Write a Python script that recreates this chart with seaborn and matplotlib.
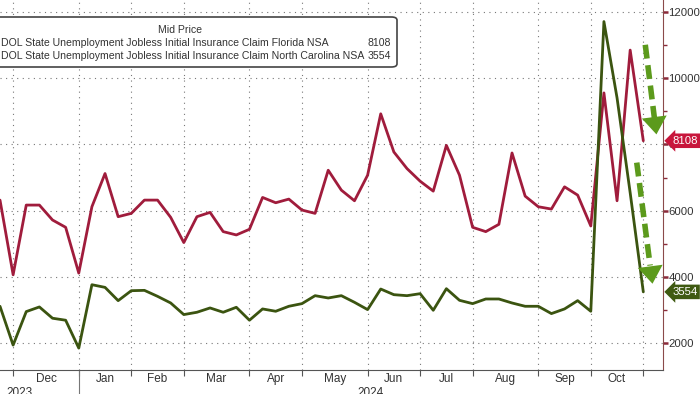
import pandas as pd
import matplotlib.pyplot as plt
import numpy as np
import seaborn as sns
from matplotlib.patches import FancyBboxPatch
import matplotlib.transforms as mtransforms

# Недельные значения (индекс недели)
florida = [6320, 4070, 6170, 6170, 5720, 5500, 4120, 6120, 7120, 5820,
           5920, 6320, 6320, 5800, 5040, 5820, 5950, 5370, 5270, 5440,
           6400, 6240, 6350, 6020, 5920, 7220, 6620, 6300, 7070, 8920,
           7770, 7270, 6890, 6590, 7970, 7070, 5500, 5370, 5590, 7740,
           6440, 6120, 6050, 6720, 6470, 5540, 9550, 6300, 10840, 8108]
n_carolina = [3120, 1950, 2960, 3100, 2760, 2700, 1860, 3770, 3690, 3290,
              3590, 3600, 3420, 3220, 2870, 2940, 3070, 2940, 3090, 2700,
              3040, 2970, 3120, 3200, 3440, 3370, 3440, 3240, 3020, 3640,
              3470, 3440, 3500, 3000, 3650, 3300, 3200, 3340, 3340, 3220,
              3120, 3120, 2900, 3040, 3290, 2970, 11700, 9400, 6540, 3554]
week = list(range(-1, len(florida) - 1))

# Начало каждого месяца (индекс недели) и подписи
month_starts = [0, 5, 9, 13, 18, 22, 27, 31, 35, 40, 44, 48]
month_names = ['Dec', 'Jan', 'Feb', 'Mar', 'Apr', 'May', 'Jun', 'Jul', 'Aug', 'Sep', 'Oct']
year_labels = ['2023', '2024']
year_pos = [0.45, 27.2]

# Стрелки-аннотации (начало -> конец)
arrow1 = [(48.15, 11000), (49.0, 8300)]
arrow2 = [(47.5, 7450), (48.7, 3800)]

red = '#a01c3c'
green = '#3b5410'
arrow_green = '#5c9a1c'
txt = '#333333'

df = pd.DataFrame({'week': week, 'Florida': florida, 'North Carolina': n_carolina})

sns.set_style('white')
plt.rcParams['font.family'] = ['Liberation Sans', 'DejaVu Sans']

fig = plt.figure(figsize=(7, 3.94), dpi=100)
ax = fig.add_axes([0, 24 / 394, 663 / 700, 370 / 394])

sns.lineplot(data=df, x='week', y='Florida', color=red, lw=2, ax=ax)
sns.lineplot(data=df, x='week', y='North Carolina', color=green, lw=2, ax=ax)

ax.set_xlim(-1, 49.5)
ax.set_ylim(1200, 12350)
ax.set_xlabel('')
ax.set_ylabel('')

# Ось Y справа
ax.yaxis.tick_right()
ax.set_yticks(range(2000, 12001, 2000))
ax.set_yticks(range(3000, 12001, 2000), minor=True)
ax.set_yticklabels([str(v) for v in range(2000, 12001, 2000)], fontsize=8.2, color=txt)
ax.tick_params(axis='y', which='major', length=3.5, width=1.8, color='#8b2a3a', pad=0.5, right=True)
ax.tick_params(axis='y', which='minor', length=3, width=1, color='#8b2a3a', right=True)

# Ось X: отметки на начало месяца, подписи по центру
ax.set_xticks(month_starts)
ax.set_xticklabels([])
centers = [(month_starts[i] + month_starts[i + 1]) / 2 for i in range(len(month_names))]
ax.set_xticks(centers, minor=True)
ax.set_xticklabels(month_names, minor=True, fontsize=8.5, color=txt)
ax.tick_params(axis='x', which='major', length=4, color='#555555', bottom=True)
ax.tick_params(axis='x', which='minor', length=0, pad=2)

ax.grid(True, which='major', axis='both', linestyle=(0, (1, 4)), color='#777777', lw=0.8)
for s in ['left', 'top']:
    ax.spines[s].set_visible(False)
ax.spines['right'].set_color('#8b4a4a')
ax.spines['bottom'].set_color('#555555')

# Годы под осью (обрезаны нижним краем, как в оригинале)
trans = mtransforms.blended_transform_factory(ax.transData, fig.transFigure)
for lab, pos in zip(year_labels, year_pos):
    fig.text(pos, 1 - 386.5 / 394, lab, transform=trans, ha='center', va='top', fontsize=8.5, color=txt)
ax.plot([month_starts[1], month_starts[1]], [0, -0.07],
        transform=mtransforms.blended_transform_factory(ax.transData, ax.transAxes),
        color='#777777', lw=0.8, clip_on=False)

# Зелёные пунктирные стрелки
for (x0, y0), (x1, y1) in [arrow1, arrow2]:
    xs = x0 + (x1 - x0) * 0.85
    ys = y0 + (y1 - y0) * 0.85
    ax.plot([x0, xs], [y0, ys], color=arrow_green, lw=4, dashes=(2.5, 1.2), solid_capstyle='butt', clip_on=False)
    ax.annotate('', xy=(x1, y1), xytext=(xs, ys),
                arrowprops=dict(arrowstyle='-|>,head_length=0.7,head_width=0.5', color=arrow_green, lw=0,
                                mutation_scale=18, shrinkA=0, shrinkB=0), annotation_clip=False)

# Ярлыки последних значений
tag = mtransforms.blended_transform_factory(ax.transAxes, ax.transData)
ax.text(1.014, florida[-1], str(florida[-1]), transform=tag, va='center', ha='left', color='white', fontsize=8.2,
        bbox=dict(boxstyle='larrow,pad=0.2', fc='#c8163c', ec='none'), clip_on=False)
ax.text(1.014, n_carolina[-1], str(n_carolina[-1]), transform=tag, va='center', ha='left', color='white', fontsize=8.2,
        bbox=dict(boxstyle='larrow,pad=0.2', fc='#3f5a12', ec='none'), clip_on=False)

# Легенда в рамке
fs = 7.6
box = FancyBboxPatch((-20 / 700, 1 - 67 / 394), 417 / 700, 50 / 394, boxstyle='round,pad=0,rounding_size=0.008',
                     transform=fig.transFigure, fc='white', ec='#444444', lw=1.2, zorder=5)
fig.patches.append(box)
fig.text(180 / 700, 1 - 30 / 394, 'Mid Price', ha='center', va='center', fontsize=fs, color=txt, zorder=6)
fig.text(1 / 700, 1 - 43 / 394, 'DOL State Unemployment Jobless Initial Insurance Claim Florida NSA',
         ha='left', va='center', fontsize=fs, color=txt, zorder=6)
fig.text(1 / 700, 1 - 56 / 394, 'DOL State Unemployment Jobless Initial Insurance Claim North Carolina NSA',
         ha='left', va='center', fontsize=fs, color=txt, zorder=6)
fig.text(391 / 700, 1 - 43 / 394, str(florida[-1]), ha='right', va='center', fontsize=fs, color=txt, zorder=6)
fig.text(391 / 700, 1 - 56 / 394, str(n_carolina[-1]), ha='right', va='center', fontsize=fs, color=txt, zorder=6)

fig.savefig('out.png', dpi=100)
